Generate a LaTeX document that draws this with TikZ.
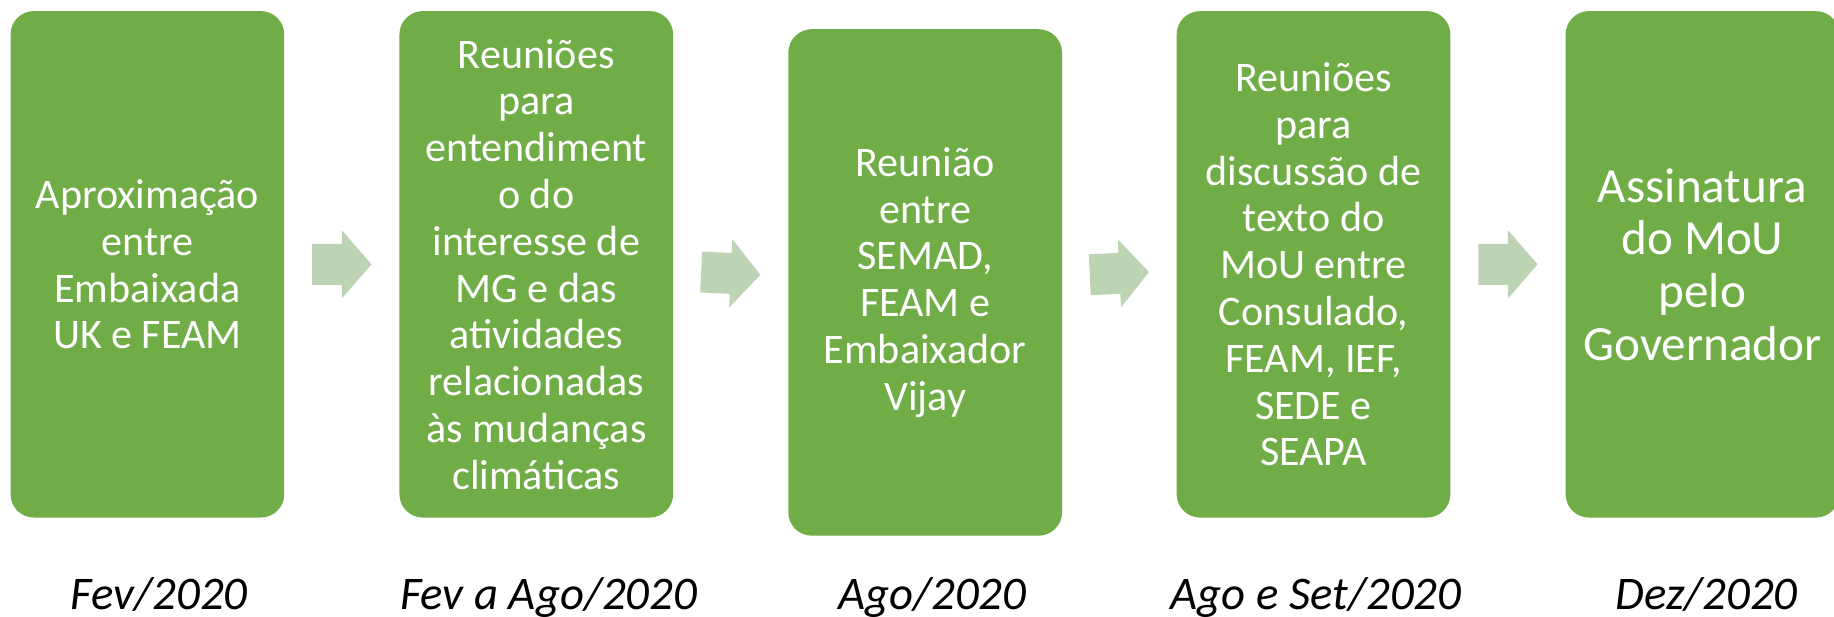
\documentclass[tikz,border=0pt]{standalone}
\usepackage{fontspec}
\setmainfont{Carlito}
\usetikzlibrary{calc}
\definecolor{boxgreen}{HTML}{70AD47}
\definecolor{arrowgreen}{RGB}{188,212,180}
\tikzset{
  stepbox/.style={rectangle, rounded corners=10pt, fill=boxgreen, text=white,
    minimum width=117pt, minimum height=216.5pt, inner sep=0pt, align=center,
    font=\fontsize{18}{20}\selectfont},
  bigbox/.style={stepbox, font=\fontsize{21}{22.5}\selectfont},
  datelabel/.style={anchor=base, inner sep=0pt, font=\fontsize{20}{24}\selectfont\itshape},
  blockarr/.pic={\fill[arrowgreen] (-25.3,-17.5) -- (0,-17.5) -- (0,-29.2) -- (25.3,0)
    -- (0,29.2) -- (0,17.5) -- (-25.3,17.5) -- cycle;}
}
\begin{document}
\begin{tikzpicture}[x=0.5pt,y=-0.5pt]
\fill[white] (0,0) rectangle (1568,527.5);
\useasboundingbox (0,0) rectangle (1568,527.5);
\node[stepbox] (b1) at (126,226) {Aproximação\\entre\\Embaixada\\UK e FEAM};
\node[stepbox] (b2) at (458.5,226) {Reuniões\\para\\entendiment\\o do\\interesse de\\MG e das\\atividades\\relacionadas\\às mudanças\\climáticas};
\node[stepbox] (b3) at (791,241.5) {Reunião\\entre\\SEMAD,\\FEAM e\\Embaixador\\Vijay};
\node[stepbox] (b4) at (1123,226) {Reuniões\\para\\discussão de\\texto do\\MoU entre\\Consulado,\\FEAM, IEF,\\SEDE e\\SEAPA};
\node[bigbox] (b5) at (1455.5,226) {Assinatura\\do MoU\\pelo\\Governador};
\pic at ($(b1.east)!0.5!(b2.west)$) {blockarr};
\pic[rotate=-2.67] at ($(b2.east)!0.5!(b3.west)$) {blockarr};
\pic[rotate=2.67] at ($(b3.east)!0.5!(b4.west)$) {blockarr};
\pic at ($(b4.east)!0.5!(b5.west)$) {blockarr};
\node[datelabel] (d1) at (136,521.5) {Fev/2020};
\node[datelabel] (d2) at (469,521.5) {Fev a Ago/2020};
\node[datelabel] (d3) at (797,521.5) {Ago/2020};
\node[datelabel] (d4) at (1125,521.5) {Ago e Set/2020};
\node[datelabel] (d5) at (1459,521.5) {Dez/2020};
\end{tikzpicture}
\end{document}
